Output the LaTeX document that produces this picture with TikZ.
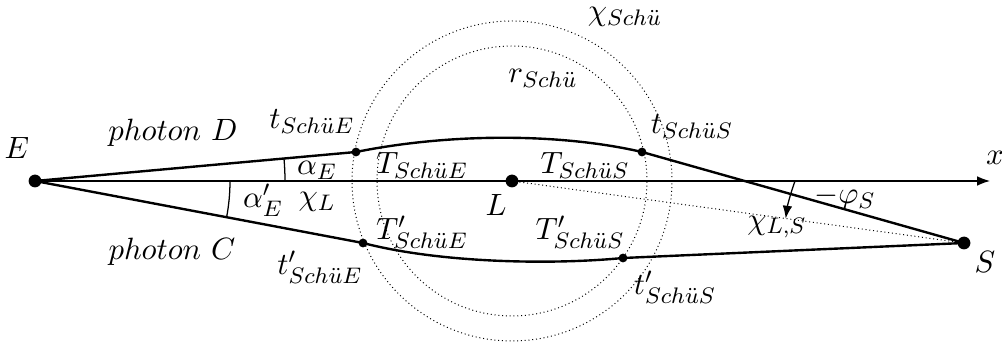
\documentclass[tikz,border=0pt]{standalone}
\usetikzlibrary{arrows.meta, calc}
\tikzset{
  every picture/.style={line width=0.45pt, font=\fontsize{11}{13}\selectfont},
  photon/.style={line width=0.85pt},
  ring/.style={densely dotted, line width=0.35pt},
  arrow/.style={-{Latex[length=1.6mm, width=1.2mm]}},
  bigdot/.style={circle, fill, inner sep=0pt, minimum size=1.6mm},
  smalldot/.style={circle, fill, inner sep=0pt, minimum size=1.1mm},
}
\begin{document}
\begin{tikzpicture}[x=0.125mm, y=0.125mm]
  \useasboundingbox (0,0) rectangle (1002,345);
  % bodies and crossing points
  \node[bigdot] (E) at (35,164) {};
  \node[bigdot] (L) at (512,164) {};
  \node[bigdot] (S) at (964,102) {};
  \node[smalldot] (tE) at (356,193) {};
  \node[smalldot] (tS) at (642,193) {};
  \node[smalldot] (tpE) at (363,102) {};
  \node[smalldot] (tpS) at (623,87) {};
  \coordinate (xend) at (990,164);
  % circles
  \draw[ring] (L.center) circle[radius=135];
  \draw[ring] (L.center) circle[radius=160];
  % axis and line of sight
  \draw[arrow] (E.center) -- (xend);
  \draw[ring] (L.center) -- (S.center);
  % photons
  \draw[photon] (E.center) -- (tE.center) .. controls (450,212) and (560,212) .. (tS.center) -- (S.center);
  \draw[photon] (E.center) -- (tpE.center) .. controls (440,82) and (550,80) .. (tpS.center) -- (S.center);
  % angles
  \draw (E.center) ++(0:250) arc[start angle=0, end angle=5.16, radius=250];
  \draw (E.center) ++(0:195) arc[start angle=0, end angle=-10.7, radius=195];
  \draw[arrow] (S.center) ++(160:180) arc[start angle=160, end angle=172.2, radius=180];
  % labels
  \node (lE) at (17,197) {$E$};
  \node (lL) at (496,140) {$L$};
  \node (lS) at (985,83) {$S$};
  \node (lx) at (995,187) {$x$};
  \node (lD) at (173,212) {$photon\ D$};
  \node (lC) at (172,93) {$photon\ C$};
  \node (ltE) at (312,223) {$t_{Sch\ddot uE}$};
  \node (ltS) at (692,218) {$t_{Sch\ddot uS}$};
  \node (ltpE) at (320,78) {$t'_{Sch\ddot uE}$};
  \node (ltpS) at (675,58) {$t'_{Sch\ddot uS}$};
  \node (lTE) at (422,180) {$T_{Sch\ddot uE}$};
  \node (lTS) at (585,180) {$T_{Sch\ddot uS}$};
  \node (lTpE) at (422,113) {$T'_{Sch\ddot uE}$};
  \node (lTpS) at (580,113) {$T'_{Sch\ddot uS}$};
  \node (lr) at (543,267) {$r_{Sch\ddot u}$};
  \node (lchi) at (625,328) {$\chi_{Sch\ddot u}$};
  \node (laE) at (317,175) {$\alpha_E$};
  \node (lapE) at (263,145) {$\alpha'_E$};
  \node (lchiL) at (317,143) {$\chi_L$};
  \node (lphi) at (845,147) {$-\varphi_S$};
  \node (lchiLS) at (777,118) {$\chi_{L,S}$};
\end{tikzpicture}
\end{document}
